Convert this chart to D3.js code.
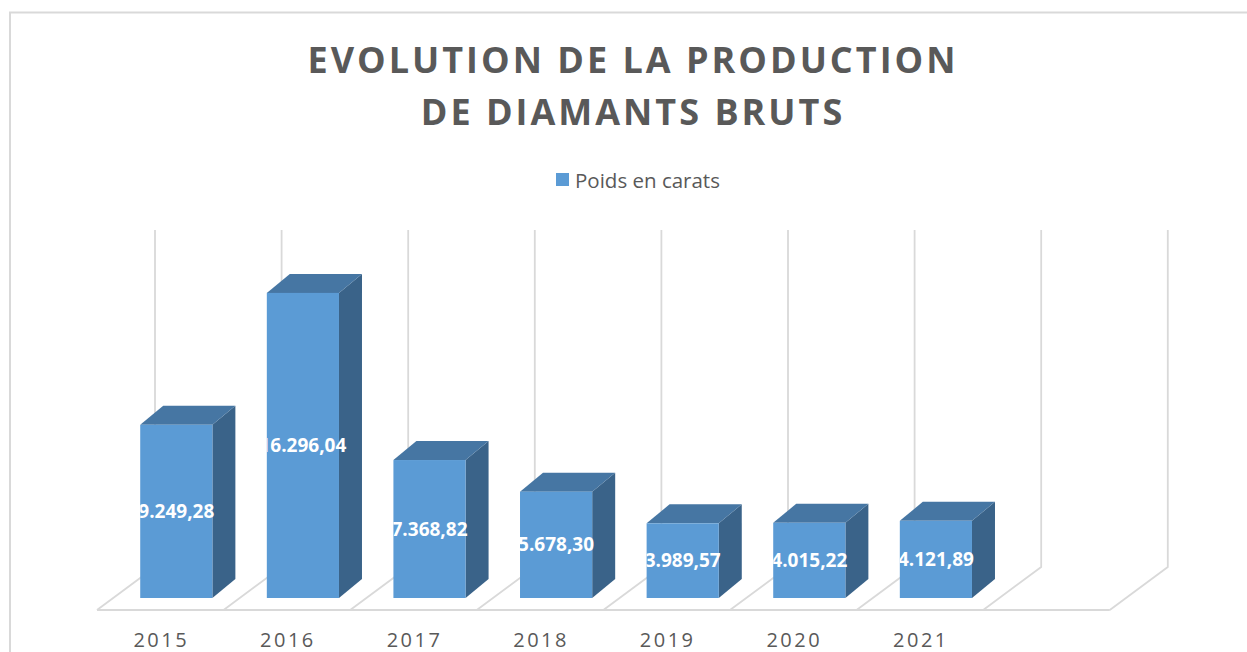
<!DOCTYPE html>
<html>
<head>
<meta charset="utf-8">
<script src="https://cdn.jsdelivr.net/npm/d3@7"></script>
<style>
  html, body { margin: 0; padding: 0; background: #fff; }
  svg { display: block; font-family: "Open Sans", sans-serif; }
</style>
</head>
<body>
<div id="chart"></div>
<script>
// data (last slot is an empty category)
const years = ["2015", "2016", "2017", "2018", "2019", "2020", "2021", ""];
const carats = [9249.28, 16296.04, 7368.82, 5678.30, 3989.57, 4015.22, 4121.89, null];
const titleLines = ["EVOLUTION DE LA PRODUCTION", "DE DIAMANTS BRUTS"];
const seriesName = "Poids en carats";

let width = 1247,
    height = 652;

const data = years.map((y, i) => ({ year: y, value: carats[i] }));

const svg = d3.select("#chart")
  .append("svg")
  .attr("width", width)
  .attr("height", height)
  .attr("viewBox", [0, 0, width, height]);

// chart area border
svg.append("rect")
  .attr("x", 10).attr("y", 12.5)
  .attr("width", width + 20).attr("height", height + 20)
  .attr("fill", "none")
  .attr("stroke", "#d9d9d9")
  .attr("stroke-width", 2);

// title
svg.append("g")
  .attr("fill", "#595959")
  .attr("font-weight", 700)
  .attr("font-size", 36)
  .attr("letter-spacing", 3)
  .attr("text-anchor", "middle")
  .selectAll("text")
  .data(titleLines)
  .join("text")
  .attr("x", 633)
  .attr("y", (d, i) => 73 + i * 52)
  .text(d => d);

// legend
const legend = svg.append("g").attr("transform", "translate(556,173)");
legend.append("rect").attr("width", 13).attr("height", 13).attr("fill", "#5b9bd5");
legend.append("text")
  .attr("x", 19).attr("y", 14.5)
  .attr("fill", "#595959")
  .attr("font-size", 20.5)
  .text(seriesName);

// oblique 3d geometry
const floorY = 610,          // front edge of floor
      floorDX = 58, floorDY = 43,   // floor depth offset
      barFrontDX = 16, barFrontDY = 12,  // bar front face position in depth
      depthX = 23, depthY = 19,     // bar depth
      backH = 337;

const x = d3.scaleBand()
  .domain(years)
  .range([97, 97 + 8 * 126.6]);

const bar = d3.scaleBand()
  .domain(years)
  .range([97 + barFrontDX, 97 + barFrontDX + 8 * 126.6])
  .paddingInner(0.43)
  .paddingOuter(0.215);

const h = d3.scaleLinear()
  .domain([0, 18000])
  .range([0, backH]);

const barBase = floorY - barFrontDY;

// gridlines on back wall and floor
const bounds = years.map(d => x(d)).concat([x.range()[1]]);
const grid = svg.append("g")
  .attr("fill", "none")
  .attr("stroke", "#d9d9d9")
  .attr("stroke-width", 1.8);

grid.selectAll("path")
  .data(bounds)
  .join("path")
  .attr("d", b => {
    const p = d3.path();
    p.moveTo(b + floorDX, floorY - floorDY - h(18000));
    p.lineTo(b + floorDX, floorY - floorDY);
    p.lineTo(b, floorY);
    return p.toString();
  });

grid.append("line")
  .attr("x1", bounds[0]).attr("x2", bounds[bounds.length - 1])
  .attr("y1", floorY).attr("y2", floorY);

// bars
const bars = svg.append("g")
  .selectAll("g")
  .data(data.filter(d => d.value != null))
  .join("g");

bars.append("polygon")
  .attr("fill", "#3a6389")
  .attr("points", d => {
    const x1 = bar(d.year) + bar.bandwidth(), top = barBase - h(d.value);
    return [[x1, top], [x1 + depthX, top - depthY], [x1 + depthX, barBase - depthY], [x1, barBase]].join(" ");
  });

bars.append("polygon")
  .attr("fill", "#4676a3")
  .attr("points", d => {
    const x0 = bar(d.year), x1 = x0 + bar.bandwidth(), top = barBase - h(d.value);
    return [[x0, top], [x1, top], [x1 + depthX, top - depthY], [x0 + depthX, top - depthY]].join(" ");
  });

bars.append("rect")
  .attr("fill", "#5b9bd5")
  .attr("x", d => bar(d.year))
  .attr("y", d => barBase - h(d.value))
  .attr("width", bar.bandwidth())
  .attr("height", d => h(d.value));

// data labels, clipped at the left edge of each bar front
const fr = d3.formatLocale({ decimal: ",", thousands: ".", grouping: [3] }).format(",.2f");

bars.append("clipPath")
  .attr("id", (d, i) => "clip" + i)
  .append("rect")
  .attr("x", d => bar(d.year))
  .attr("y", 0)
  .attr("width", bar.bandwidth() + 60)
  .attr("height", height);

bars.append("text")
  .attr("clip-path", (d, i) => `url(#clip${i})`)
  .attr("x", d => bar(d.year) + bar.bandwidth() / 2)
  .attr("y", d => barBase - h(d.value) / 2)
  .attr("dy", "0.35em")
  .attr("text-anchor", "middle")
  .attr("fill", "#fff")
  .attr("font-weight", 700)
  .attr("font-size", 19)
  .text(d => fr(d.value));

// category labels
svg.append("g")
  .attr("fill", "#595959")
  .attr("font-size", 20)
  .attr("letter-spacing", 2.5)
  .attr("text-anchor", "middle")
  .selectAll("text")
  .data(years.filter(d => d))
  .join("text")
  .attr("x", d => x(d) + x.bandwidth() / 2 + 1)
  .attr("y", 647)
  .text(d => d);
</script>
</body>
</html>
